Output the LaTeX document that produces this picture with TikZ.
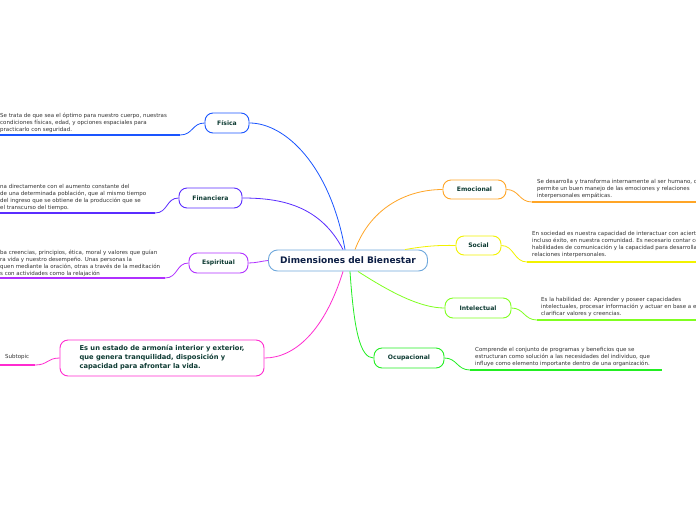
\documentclass[tikz,border=0pt]{standalone}
\usepackage{fontspec}
\setmainfont{DejaVu Sans}
\usetikzlibrary{calc}

\begin{document}
\begin{tikzpicture}[x=1pt,y=-1pt,
    topicBox/.style={draw, line width=0.9pt, rounded corners=8pt, fill=white,
        text=topicInk, font=\fontsize{6.1}{7}\bfseries, inner sep=0pt},
    detailText/.style={anchor=north west, inner sep=0pt, align=left,
        text=detailInk, font=\fontsize{5.5}{7}\selectfont},
    branch/.style={line width=0.8pt},
    underline/.style={line width=1.4pt}]

% colors
\definecolor{centralBorder}{HTML}{6FA8DC}
\definecolor{centralInk}{HTML}{0D1F45}
\definecolor{topicInk}{HTML}{0E3B33}
\definecolor{detailInk}{HTML}{333333}
\definecolor{fisicaColor}{HTML}{1A55FF}
\definecolor{financieraColor}{HTML}{5A2DFF}
\definecolor{espiritualColor}{HTML}{B030FF}
\definecolor{subtopicColor}{HTML}{FF2BD0}
\definecolor{emocionalColor}{HTML}{FFA526}
\definecolor{socialColor}{HTML}{F2F200}
\definecolor{intelectualColor}{HTML}{80FF20}
\definecolor{ocupacionalColor}{HTML}{22EE22}

% canvas
\useasboundingbox (0,0) rectangle (696,520);
\clip (0,0) rectangle (696,520);
\fill[white] (0,0) rectangle (696,520);

% central topic
\node[draw=centralBorder, line width=0.9pt, rounded corners=9pt, fill=white,
    minimum width=159pt, minimum height=21pt, inner sep=0pt,
    text=centralInk, font=\fontsize{9}{10}\bfseries] (central) at (348,260.5) {Dimensiones del Bienestar};

% main topics, left side
\node[topicBox, draw=fisicaColor, minimum width=44pt, minimum height=20pt] (fisica) at (227,123) {Física};
\node[topicBox, draw=financieraColor, minimum width=63pt, minimum height=20pt] (financiera) at (210.5,198) {Financiera};
\node[topicBox, draw=espiritualColor, minimum width=59pt, minimum height=20pt] (espiritual) at (218.5,263) {Espiritual};
\node[topicBox, draw=subtopicColor, minimum width=204pt, minimum height=36pt, align=left,
    font=\fontsize{6.7}{9}\bfseries, anchor=center] (subtopic) at (162,358)
    {Es un estado de armonía interior y exterior,\\que genera tranquilidad, disposición y\\capacidad para afrontar la vida.};

% main topics, right side
\node[topicBox, draw=emocionalColor, minimum width=63pt, minimum height=19pt] (emocional) at (474.5,189.5) {Emocional};
\node[topicBox, draw=socialColor, minimum width=45pt, minimum height=19pt] (social) at (478.5,245.5) {Social};
\node[topicBox, draw=intelectualColor, minimum width=66pt, minimum height=20pt] (intelectual) at (478,308) {Intelectual};
\node[topicBox, draw=ocupacionalColor, minimum width=70pt, minimum height=20pt] (ocupacional) at (409,358) {Ocupacional};

% branches from the central topic
\draw[branch, fisicaColor] ([xshift=-3pt]central.north) .. controls (330,165) and (285,123) .. (fisica.east);
\draw[branch, financieraColor] ([xshift=-5pt]central.north) .. controls (320,205) and (280,198) .. (financiera.east);
\draw[branch, espiritualColor] (espiritual.east) .. controls (256,263) and (262,261) .. (central.west);
\draw[branch, subtopicColor] ([xshift=-5pt]central.south) .. controls (325,330) and (295,358) .. (subtopic.east);
\draw[branch, emocionalColor] ([xshift=7pt]central.north) .. controls (372,205) and (410,189.5) .. (emocional.west);
\draw[branch, socialColor] ([xshift=57pt]central.north) .. controls (425,246) and (440,245) .. (social.west);
\draw[branch, intelectualColor] ([xshift=10pt]central.south) .. controls (390,292) and (420,308) .. (intelectual.west);
\draw[branch, ocupacionalColor] ([xshift=2pt]central.south) .. controls (354,330) and (360,358) .. (ocupacional.west);

% details, left side
\node[detailText] (fisicaTxt) at (0,113) {Se trata de que sea el óptimo para nuestro cuerpo, nuestras\\condiciones físicas, edad, y opciones espaciales para\\practicarlo con seguridad.};
\coordinate (fisicaLineStart) at (0,135);
\coordinate (fisicaLineEnd) at (180,135);
\draw[underline, fisicaColor] (fisicaLineStart) -- (fisicaLineEnd);
\draw[branch, fisicaColor] (fisicaLineEnd) .. controls (193,135) and (192,123) .. (fisica.west);

\node[detailText] (financieraTxt) at (0,184.5) {na directamente con el aumento constante del\\ de una determinada población, que al mismo tiempo\\del ingreso que se obtiene de la producción que se\\ el transcurso del tiempo.};
\coordinate (financieraLineStart) at (0,213);
\coordinate (financieraLineEnd) at (155,213);
\draw[underline, financieraColor] (financieraLineStart) -- (financieraLineEnd);
\draw[branch, financieraColor] (financieraLineEnd) .. controls (168,213) and (166,198) .. (financiera.west);

\node[detailText] (espiritualTxt) at (0,249.5) {ba creencias, principios, ética, moral y valores que guían\\ra vida y nuestro desempeño. Unas personas la\\quen mediante la oración, otras a través de la meditación\\s con actividades como la relajación};
\coordinate (espiritualLineStart) at (0,278);
\coordinate (espiritualLineEnd) at (165,278);
\draw[underline, espiritualColor] (espiritualLineStart) -- (espiritualLineEnd);
\draw[branch, espiritualColor] (espiritualLineEnd) .. controls (178,278) and (176,263) .. (espiritual.west);

\node[detailText] (subtopicTxt) at (5,354.5) {Subtopic};
\coordinate (subtopicLineStart) at (0,365);
\coordinate (subtopicLineEnd) at (35,365);
\draw[underline, subtopicColor] (subtopicLineStart) -- (subtopicLineEnd);
\draw[branch, subtopicColor] (subtopicLineEnd) .. controls (48,365) and (47,358) .. (subtopic.west);

% details, right side
\node[detailText] (emocionalTxt) at (537,179) {Se desarrolla y transforma internamente al ser humano, c\\permite un buen manejo de las emociones y relaciones\\interpersonales empáticas.};
\coordinate (emocionalLineStart) at (532,202);
\coordinate (emocionalLineEnd) at (696,202);
\draw[branch, emocionalColor] (emocional.east) .. controls (519,189.5) and (519,202) .. (emocionalLineStart);
\draw[underline, emocionalColor] (emocionalLineStart) -- (emocionalLineEnd);

\node[detailText] (socialTxt) at (532,231.5) {En sociedad es nuestra capacidad de interactuar con acierto\\incluso éxito, en nuestra comunidad. Es necesario contar co\\habilidades de comunicación y la capacidad para desarrolla\\relaciones interpersonales.};
\coordinate (socialLineStart) at (527,262);
\coordinate (socialLineEnd) at (696,262);
\draw[branch, socialColor] (social.east) .. controls (514,245.5) and (514,262) .. (socialLineStart);
\draw[underline, socialColor] (socialLineStart) -- (socialLineEnd);

\node[detailText] (intelectualTxt) at (541,297) {Es la habilidad de: Aprender y poseer capacidades\\intelectuales, procesar información y actuar en base a e\\clarificar valores y creencias.};
\coordinate (intelectualLineStart) at (537,320);
\coordinate (intelectualLineEnd) at (696,320);
\draw[branch, intelectualColor] (intelectual.east) .. controls (524,308) and (524,320) .. (intelectualLineStart);
\draw[underline, intelectualColor] (intelectualLineStart) -- (intelectualLineEnd);

\node[detailText] (ocupacionalTxt) at (475,347) {Comprende el conjunto de programas y beneficios que se\\estructuran como solución a las necesidades del individuo, que\\influye como elemento importante dentro de una organización.};
\coordinate (ocupacionalLineStart) at (470,370);
\coordinate (ocupacionalLineEnd) at (662,370);
\draw[branch, ocupacionalColor] (ocupacional.east) .. controls (457,358) and (457,370) .. (ocupacionalLineStart);
\draw[underline, ocupacionalColor] (ocupacionalLineStart) -- (ocupacionalLineEnd);

\end{tikzpicture}
\end{document}
